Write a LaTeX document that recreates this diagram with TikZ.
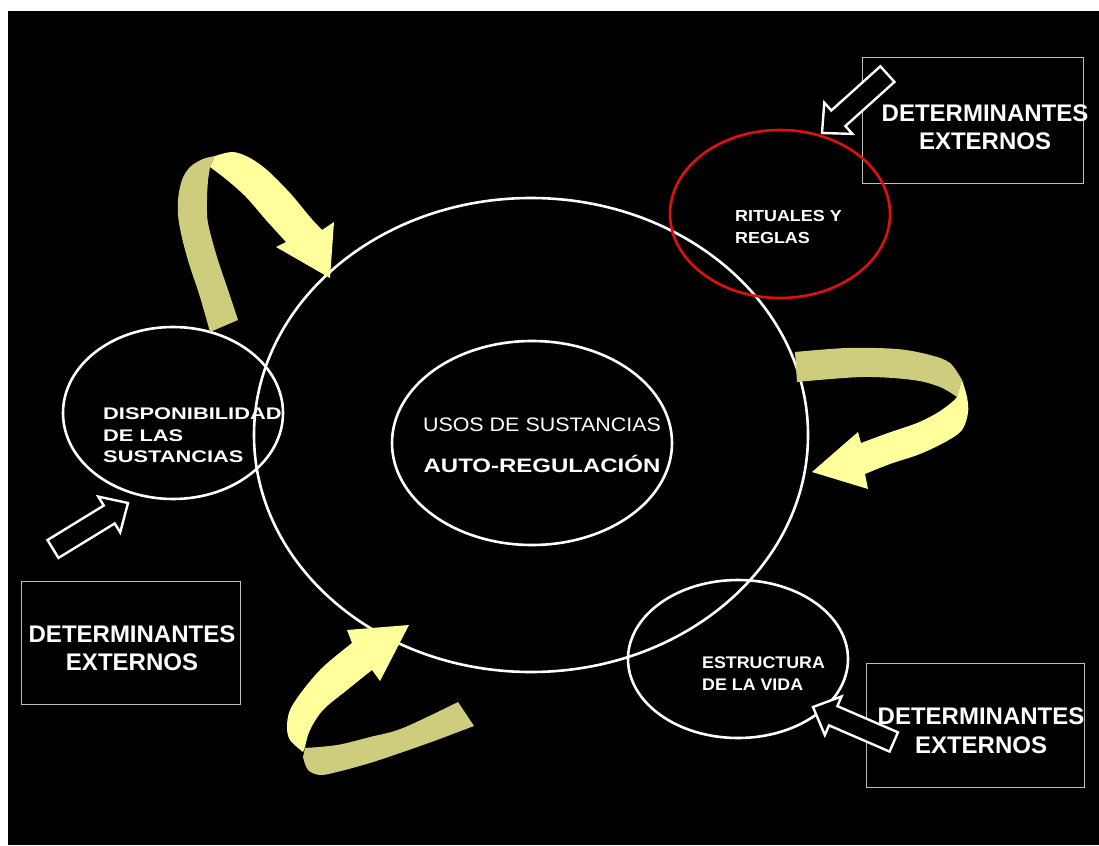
\documentclass[tikz,border=0pt]{standalone}
\usepackage{fontspec}
\setmainfont{Liberation Sans}
\usetikzlibrary{shapes.geometric}
\definecolor{ribdark}{RGB}{205,205,125}
\definecolor{riblight}{RGB}{255,255,155}
\definecolor{boxgray}{RGB}{190,190,190}
\definecolor{ritred}{RGB}{224,16,16}
\newcommand{\sx}[2]{\scalebox{#1}[1]{#2}}
\newcommand{\hollowarrow}[3]{%
  \begin{scope}[shift={(#1,#2)},rotate=#3]
    \draw[outarrow] (0,0) -- (22,-21) -- (22,-10.5) -- (88,-10.5) -- (88,10.5) -- (22,10.5) -- (22,21) -- cycle;
  \end{scope}}
\begin{document}
\begin{tikzpicture}[x=1pt,y=-1pt,
  ell/.style={ellipse, draw=white, line width=2.6pt, inner sep=0pt},
  extbox/.style={draw=boxgray, line width=1pt, inner sep=0pt},
  outarrow/.style={draw=white, fill=black, line width=2.4pt, line join=miter},
  bigtxt/.style={text=white, font=\fontsize{24}{28.5}\selectfont\bfseries, align=center, inner sep=0pt},
  smalltxt/.style={text=white, font=\fontsize{16.8}{21.5}\selectfont\bfseries, align=left, inner sep=0pt, anchor=west},
  sm/.style={smooth, tension=0.55},
]
\useasboundingbox (0,0) rectangle (1099,845);
\fill[white] (0,0) rectangle (1099,845);
\fill[black] (8,11) rectangle (1099,845);

% boxes
\node[extbox, minimum width=221, minimum height=125] (boxtr) at (972.5,120.5) {};
\node[extbox, minimum width=219, minimum height=123] (boxl) at (130.5,642.5) {};
\node[extbox, minimum width=218, minimum height=124] (boxbr) at (975,725) {};

% ellipses
\node[ell, minimum width=554, minimum height=474] (big) at (531,435) {};
\node[ell, minimum width=280, minimum height=204] (inner) at (532,443) {};
\node[ell, minimum width=220, minimum height=172] (disp) at (173,413) {};
\node[ell, draw=ritred, minimum width=220, minimum height=168] (rit) at (780,214) {};
\node[ell, minimum width=220, minimum height=158] (estr) at (738,659) {};

% hollow arrows
\hollowarrow{822}{133}{42}
\hollowarrow{128}{503}{-148.5}
\hollowarrow{813}{707}{-23.4}

% texts
\node[text=white, font=\fontsize{19.5}{24}\selectfont, inner sep=0pt, anchor=base] (usos) at (542,431.5) {\sx{1.1}{USOS DE SUSTANCIAS}};
\node[text=white, font=\fontsize{19.5}{24}\selectfont\bfseries, inner sep=0pt, anchor=base] (auto) at (542,472) {\sx{1.23}{AUTO-REGULACIÓN}};
\node[smalltxt] (tdisp) at (103,435.5) {\sx{1.3}{DISPONIBILIDAD}\\\sx{1.3}{DE LAS}\\\sx{1.3}{SUSTANCIAS}};
\node[smalltxt, font=\fontsize{16}{22}\selectfont\bfseries] (trit) at (735,227) {\sx{1.12}{RITUALES Y}\\\sx{1.12}{REGLAS}};
\node[smalltxt, font=\fontsize{16.8}{22}\selectfont\bfseries] (testr) at (702,674) {\sx{1.06}{ESTRUCTURA}\\\sx{1.06}{DE LA VIDA}};
\node[bigtxt] (dettr) at (985,127) {DETERMINANTES\\EXTERNOS};
\node[bigtxt] (detl) at (132,648) {DETERMINANTES\\EXTERNOS};
\node[bigtxt] (detbr) at (981,730.5) {DETERMINANTES\\EXTERNOS};

% ribbon A (top left)
\fill[ribdark] plot[sm] coordinates {(210,332) (200,297) (187,257) (179,223) (178,200) (182,180) (190,167) (203,159) (215,156)} -- (210,167) -- plot[sm] coordinates {(208,180) (207,200) (208,223) (217,257) (227,287) (238,320)} -- cycle;
\fill[riblight] plot[sm] coordinates {(215,156) (233,152) (250,158) (267,170) (290,193) (310,217) (322,230)} -- (334,222) -- (330,278) -- (276,247) -- plot[sm] coordinates {(286,242) (266,220) (246,197) (227,180) (210,167)} -- cycle;
% ribbon B (right)
\fill[ribdark] plot[sm] coordinates {(795,352) (847,348) (897,349) (930,355) (950,363) (962,380)} -- plot[sm] coordinates {(957,397) (940,387) (913,380) (863,377) (797,382)} -- cycle;
\fill[riblight] plot[sm] coordinates {(962,380) (967,397) (968,413) (962,430) (947,441) (920,454) (890,464) (865,474)} -- (868,489) -- (812,472) -- (858,432) -- plot[sm] coordinates {(861,443) (888,433) (917,423) (937,413) (951,403) (957,397)} -- cycle;
% ribbon C (bottom)
\fill[ribdark] plot[sm] coordinates {(305,748) (337,745) (370,737) (403,728) (458,702)} -- (474,726) -- plot[sm] coordinates {(437,740) (403,752) (370,763) (337,772) (320,775) (308,770) (303,757)} -- cycle;
\fill[riblight] plot[sm] coordinates {(303,752) (290,740) (287,727) (290,710) (303,690) (323,667) (352,643)} -- (347,630) -- (409,625) -- (380,681) -- plot[sm] coordinates {(372,670) (347,690) (323,710) (310,730) (305,747)} -- cycle;
\end{tikzpicture}
\end{document}
